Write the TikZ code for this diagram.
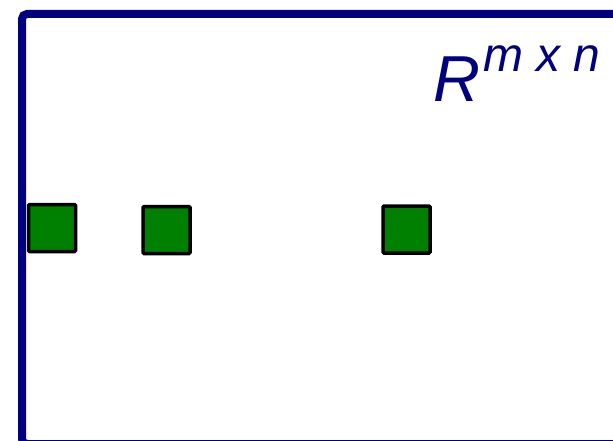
\documentclass[tikz,border=0pt]{standalone}
\usepackage{fontspec}
\setmainfont{Liberation Sans}
\definecolor{framenavy}{RGB}{0,0,128}
\definecolor{cellgreen}{RGB}{0,128,0}
\begin{document}
\begin{tikzpicture}[x=1pt,y=-1pt,
  frame/.style={draw=framenavy,line width=8pt,rounded corners=5pt},
  cell/.style={draw=black,fill=cellgreen,line width=3.5pt,rounded corners=1pt,
    minimum width=47pt,minimum height=47pt,inner sep=0pt,outer sep=0pt},
  label/.style={text=framenavy,inner sep=0pt,anchor=base west,font=\itshape}]
\useasboundingbox (0,0) rectangle (613,441);
\clip (0,0) rectangle (613,441);
\draw[frame] (22,14) rectangle (720,444);
\node[label] (space) at (433,102) {\fontsize{65}{70}\selectfont R};
\node[label] (dims) at (483,72) {\fontsize{48}{52}\selectfont m x n};
\node[cell] (c1) at (52,228) {};
\node[cell] (c2) at (166.5,230) {};
\node[cell] (c3) at (406.5,229.5) {};
\end{tikzpicture}
\end{document}
